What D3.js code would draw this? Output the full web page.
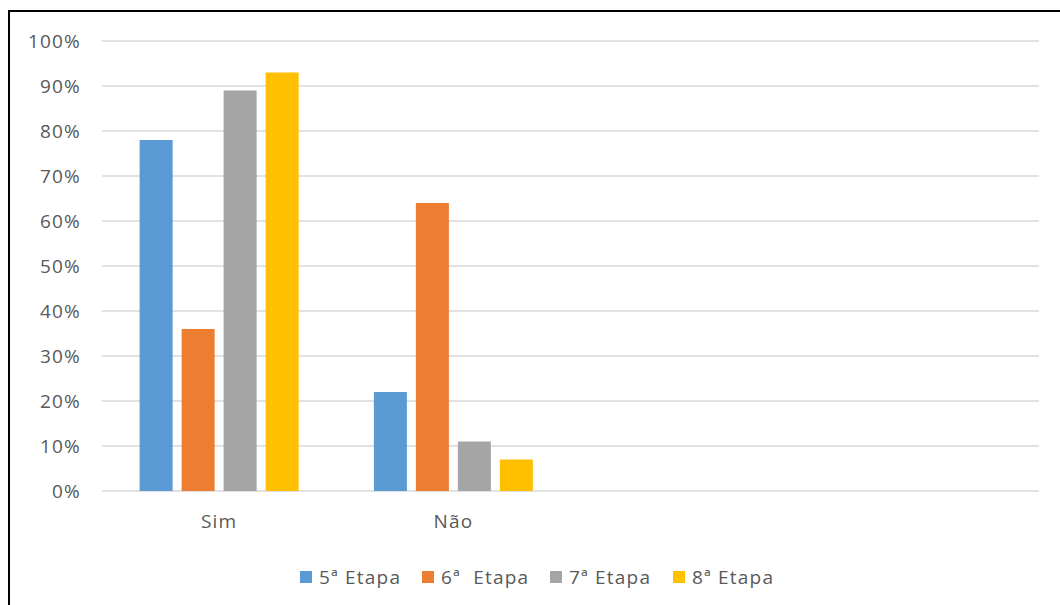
<!DOCTYPE html>
<html>
<head>
<meta charset="utf-8">
<script src="https://cdn.jsdelivr.net/npm/d3@7"></script>
<style>
  html, body { margin: 0; padding: 0; background: #fff; }
  svg { display: block; }
  text { font-family: "Open Sans", sans-serif; fill: #595959; }
</style>
</head>
<body>
<svg id="chart" width="1060" height="605"></svg>
<script>
// Categories (the last two slots are left empty on the axis)
const categories = ["Sim", "Não", "", " "];
const seriesNames = ["5ª Etapa", "6ª  Etapa", "7ª Etapa", "8ª Etapa"];
const seriesColors = ["#5b9bd5", "#ed7d31", "#a5a5a5", "#ffc000"];
// Percentages per series, in category order (Sim, Não)
const etapa5 = [78, 22];
const etapa6 = [36, 64];
const etapa7 = [89, 11];
const etapa8 = [93, 7];
const seriesValues = [etapa5, etapa6, etapa7, etapa8];
const yTicks = [0, 10, 20, 30, 40, 50, 60, 70, 80, 90, 100];

const FONT_SIZE = 19;
const LETTER_SPACING = 1.2;

const svg = d3.select("#chart");

// Chart frame (runs off the right and bottom edges)
svg.append("rect")
  .attr("x", 9).attr("y", 11)
  .attr("width", 1070).attr("height", 620)
  .attr("fill", "none").attr("stroke", "#000").attr("stroke-width", 2);

const plot = { left: 102, right: 1039, top: 41, bottom: 491 };

const x = d3.scaleBand().domain(categories).range([plot.left, plot.right]).padding(0);
const xInner = d3.scaleBand().domain(d3.range(seriesNames.length))
  .range([0, x.bandwidth()]).paddingInner(0.214).paddingOuter(0.896);
const y = d3.scaleLinear().domain([0, 100]).range([plot.bottom, plot.top]);

// Horizontal gridlines
svg.append("g")
  .selectAll("line").data(yTicks).join("line")
  .attr("x1", plot.left).attr("x2", plot.right)
  .attr("y1", d => y(d)).attr("y2", d => y(d))
  .attr("stroke", "#d9d9d9").attr("stroke-width", 1.5);

// Y axis labels
const yAxis = d3.axisLeft(y).tickValues(yTicks).tickFormat(d => d + "%").tickSize(0).tickPadding(0);
const yg = svg.append("g").attr("transform", `translate(81,0)`).call(yAxis);
yg.select(".domain").remove();
yg.selectAll("text").attr("font-size", FONT_SIZE).attr("font-family", "Open Sans, sans-serif")
  .attr("fill", "#595959").attr("letter-spacing", LETTER_SPACING);

// Bars
const groups = svg.append("g").selectAll("g")
  .data(categories.slice(0, 2)).join("g")
  .attr("transform", d => `translate(${x(d)},0)`);
groups.selectAll("rect")
  .data((c, ci) => seriesValues.map((vals, si) => ({ si, v: vals[ci] })))
  .join("rect")
  .attr("x", d => xInner(d.si))
  .attr("width", xInner.bandwidth())
  .attr("y", d => y(d.v))
  .attr("height", d => y(0) - y(d.v))
  .attr("fill", d => seriesColors[d.si]);

// Category labels
const xAxis = d3.axisBottom(x).tickSize(0).tickPadding(0);
const xg = svg.append("g").attr("transform", `translate(0,${plot.bottom + 23})`).call(xAxis);
xg.select(".domain").remove();
xg.selectAll("text").attr("font-size", FONT_SIZE).attr("font-family", "Open Sans, sans-serif")
  .attr("fill", "#595959").attr("dy", "0.71em").attr("letter-spacing", LETTER_SPACING);

// Legend
const legendX = [300, 422, 550, 673];
const legend = svg.append("g").selectAll("g").data(seriesNames).join("g")
  .attr("transform", (d, i) => `translate(${legendX[i]},571)`);
legend.append("rect").attr("width", 12).attr("height", 12)
  .attr("fill", (d, i) => seriesColors[i]);
legend.append("text").attr("x", 19).attr("y", 6).attr("dy", "0.35em")
  .attr("font-size", FONT_SIZE).attr("letter-spacing", LETTER_SPACING)
  .style("white-space", "pre").attr("xml:space", "preserve")
  .text(d => d);
</script>
</body>
</html>
